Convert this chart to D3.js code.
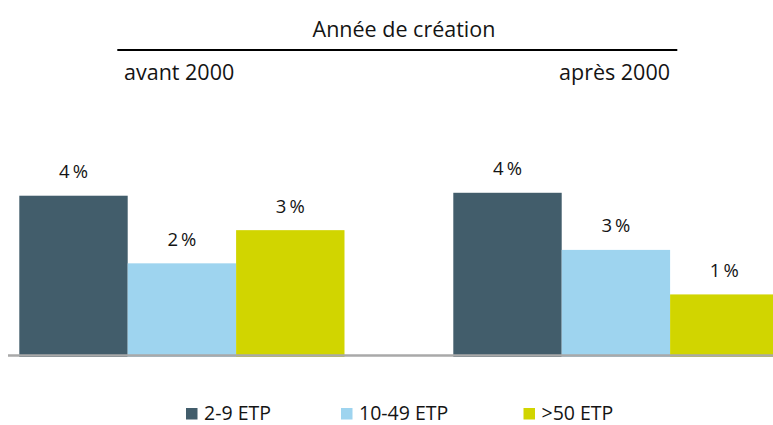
<!DOCTYPE html>
<html lang="fr">
<head>
<meta charset="utf-8">
<script src="https://cdn.jsdelivr.net/npm/d3@7"></script>
<style>
  html, body { margin: 0; padding: 0; background: #ffffff; }
  svg { display: block; }
  text { font-family: "Open Sans", "Noto Sans", sans-serif; fill: #141414; }
</style>
</head>
<body>
<svg id="chart" width="773" height="425"></svg>
<script>
// Groups (year of creation) and series (company size)
const groups = ["avant 2000", "après 2000"];
const series = ["2-9 ETP", "10-49 ETP", ">50 ETP"];
// Share per series, one array per group (in %)
const avant2000 = [3.84, 2.23, 3.02];
const apres2000 = [3.91, 2.55, 1.49];
const colors = ["#425d6b", "#9ed4ef", "#d1d500"];
const headerTitle = "Année de création";

const values = [avant2000, apres2000];
const data = groups.map((g, gi) => ({
  group: g,
  items: series.map((s, si) => ({ series: s, value: values[gi][si] }))
}));

const svg = d3.select("#chart");

const x0 = d3.scaleBand().domain(groups).range([19.3, 778.5])
  .paddingInner(0.2507).paddingOuter(0);
const x1 = d3.scaleBand().domain(series).range([0, x0.bandwidth()]).padding(0);
const y = d3.scaleLinear().domain([0, 5]).range([357, 357 - 5 * 42]);
const color = d3.scaleOrdinal().domain(series).range(colors);
const fmt = v => d3.format(".0f")(v) + "\u2009%";

// Header: title, rule and group names
svg.append("text")
  .attr("x", 404).attr("y", 37)
  .attr("text-anchor", "middle")
  .style("font-size", "21.5px")
  .text(headerTitle);

svg.append("line")
  .attr("x1", 117.3).attr("x2", 677.3)
  .attr("y1", 50).attr("y2", 50)
  .attr("stroke", "#000").attr("stroke-width", 2.2);

svg.append("text")
  .attr("x", 124).attr("y", 80)
  .style("font-size", "21.5px")
  .text(groups[0]);

svg.append("text")
  .attr("x", 670).attr("y", 80)
  .attr("text-anchor", "end")
  .style("font-size", "21.5px")
  .text(groups[1]);

// Bars
const g = svg.selectAll("g.group")
  .data(data).join("g")
  .attr("class", "group")
  .attr("transform", d => `translate(${x0(d.group)},0)`);

g.selectAll("rect")
  .data(d => d.items).join("rect")
  .attr("x", d => x1(d.series))
  .attr("width", x1.bandwidth())
  .attr("y", d => y(d.value))
  .attr("height", d => y(0) - y(d.value))
  .attr("fill", d => color(d.series));

g.selectAll("text.val")
  .data(d => d.items).join("text")
  .attr("class", "val")
  .attr("x", d => x1(d.series) + x1.bandwidth() / 2)
  .attr("y", d => y(d.value) - 17.5)
  .attr("text-anchor", "middle")
  .style("font-size", "18.5px")
  .text(d => fmt(d.value));

// Baseline
svg.append("line")
  .attr("x1", 8).attr("x2", 773)
  .attr("y1", 355.5).attr("y2", 355.5)
  .attr("stroke", "#a9a9a9").attr("stroke-width", 2.3);

// Legend
const legendX = [186, 341, 523.5];
const leg = svg.selectAll("g.legend")
  .data(series).join("g")
  .attr("class", "legend")
  .attr("transform", (d, i) => `translate(${legendX[i]},408)`);

leg.append("rect")
  .attr("width", 11.5).attr("height", 11.5)
  .attr("fill", d => color(d));

leg.append("text")
  .attr("x", 18).attr("y", 12.2)
  .style("font-size", "19.5px")
  .text(d => d);
</script>
</body>
</html>
